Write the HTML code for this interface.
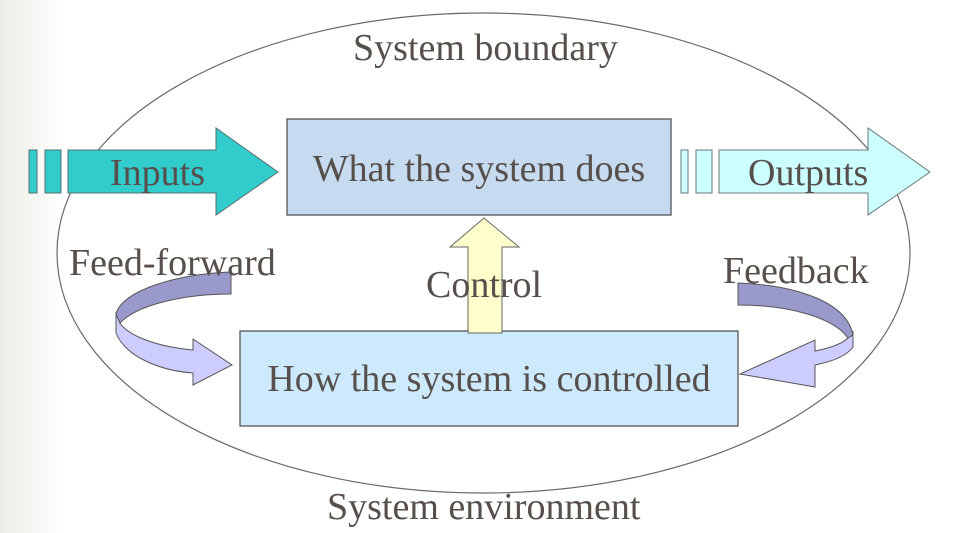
<!DOCTYPE html>
<html>
<head>
<meta charset="utf-8">
<style>
html,body{margin:0;padding:0;background:#fff;}
svg{display:block;}
text{font-family:"Liberation Serif","Times New Roman",serif;font-size:38px;fill:#564f4b;}
</style>
</head>
<body>
<svg width="977" height="533" viewBox="0 0 977 533" xmlns="http://www.w3.org/2000/svg">
<defs>
<linearGradient id="bg" x1="0" y1="0" x2="1" y2="0">
<stop offset="0" stop-color="#eeede8"/>
<stop offset="1" stop-color="#ffffff"/>
</linearGradient>
</defs>
<rect x="0" y="0" width="977" height="533" fill="#fff"/>
<rect x="0" y="0" width="65" height="533" fill="url(#bg)"/>

<!-- System boundary ellipse -->
<ellipse cx="483.5" cy="253" rx="426.5" ry="240" fill="none" stroke="#6a6a6a" stroke-width="1.2"/>

<!-- Inputs arrow -->
<rect x="29" y="150" width="8" height="43" fill="#33cccc" stroke="#557070" stroke-width="1"/>
<rect x="45" y="150" width="16" height="43" fill="#33cccc" stroke="#557070" stroke-width="1"/>
<polygon points="68,150 216,150 216,128 278,172 216,215 216,193 68,193" fill="#33cccc" stroke="#557070" stroke-width="1"/>

<!-- Outputs arrow -->
<rect x="681" y="150" width="7" height="43" fill="#ccffff" stroke="#6a7a7a" stroke-width="1"/>
<rect x="696" y="150" width="16" height="43" fill="#ccffff" stroke="#6a7a7a" stroke-width="1"/>
<polygon points="719,150 868,150 868,128 930,172 868,215 868,193 719,193" fill="#ccffff" stroke="#6a7a7a" stroke-width="1"/>

<!-- Top box -->
<rect x="287" y="119" width="384" height="96" fill="#c6dbef" stroke="#555" stroke-width="1.3"/>

<!-- Bottom box -->
<rect x="240" y="331" width="498" height="95" fill="#cdeafd" stroke="#555" stroke-width="1.3"/>

<!-- Control arrow -->
<polygon points="468,333 468,247 450,247 484,218 519,247 502,247 502,333" fill="#ffffcc" stroke="#666" stroke-width="1"/>

<!-- Feed-forward curved arrow -->
<path d="M116,312 L116,333 C126,358 163,371 193,373 L193,385 L232,365 L193,339 L193,350 C160,347 129,337 120,323 Z" fill="#ccccff" stroke="#555" stroke-width="1"/>
<path d="M231,272 C178,274 122,290 116,314 L120,323 C138,304 186,294 231,294 Z" fill="#9999cc" stroke="#555" stroke-width="1"/>

<!-- Feedback curved arrow -->
<path d="M853,332 L853,347 C846,357 830,362 815,365 L815,387 L740,374 L815,340 L815,351 C830,348 842,344 848,338 Z" fill="#ccccff" stroke="#555" stroke-width="1"/>
<path d="M738,283 C792,285 846,300 853,335 L848,338 C834,318 790,305 738,305 Z" fill="#9999cc" stroke="#555" stroke-width="1"/>

<!-- Labels -->
<text x="353" y="60">System boundary</text>
<text x="110" y="185">Inputs</text>
<text x="748" y="185">Outputs</text>
<text x="479" y="181" text-anchor="middle">What the system does</text>
<text x="69" y="275">Feed-forward</text>
<text x="723" y="283">Feedback</text>
<text x="426" y="297">Control</text>
<text x="489" y="391" text-anchor="middle">How the system is controlled</text>
<text x="327" y="519">System environment</text>
</svg>
</body>
</html>
